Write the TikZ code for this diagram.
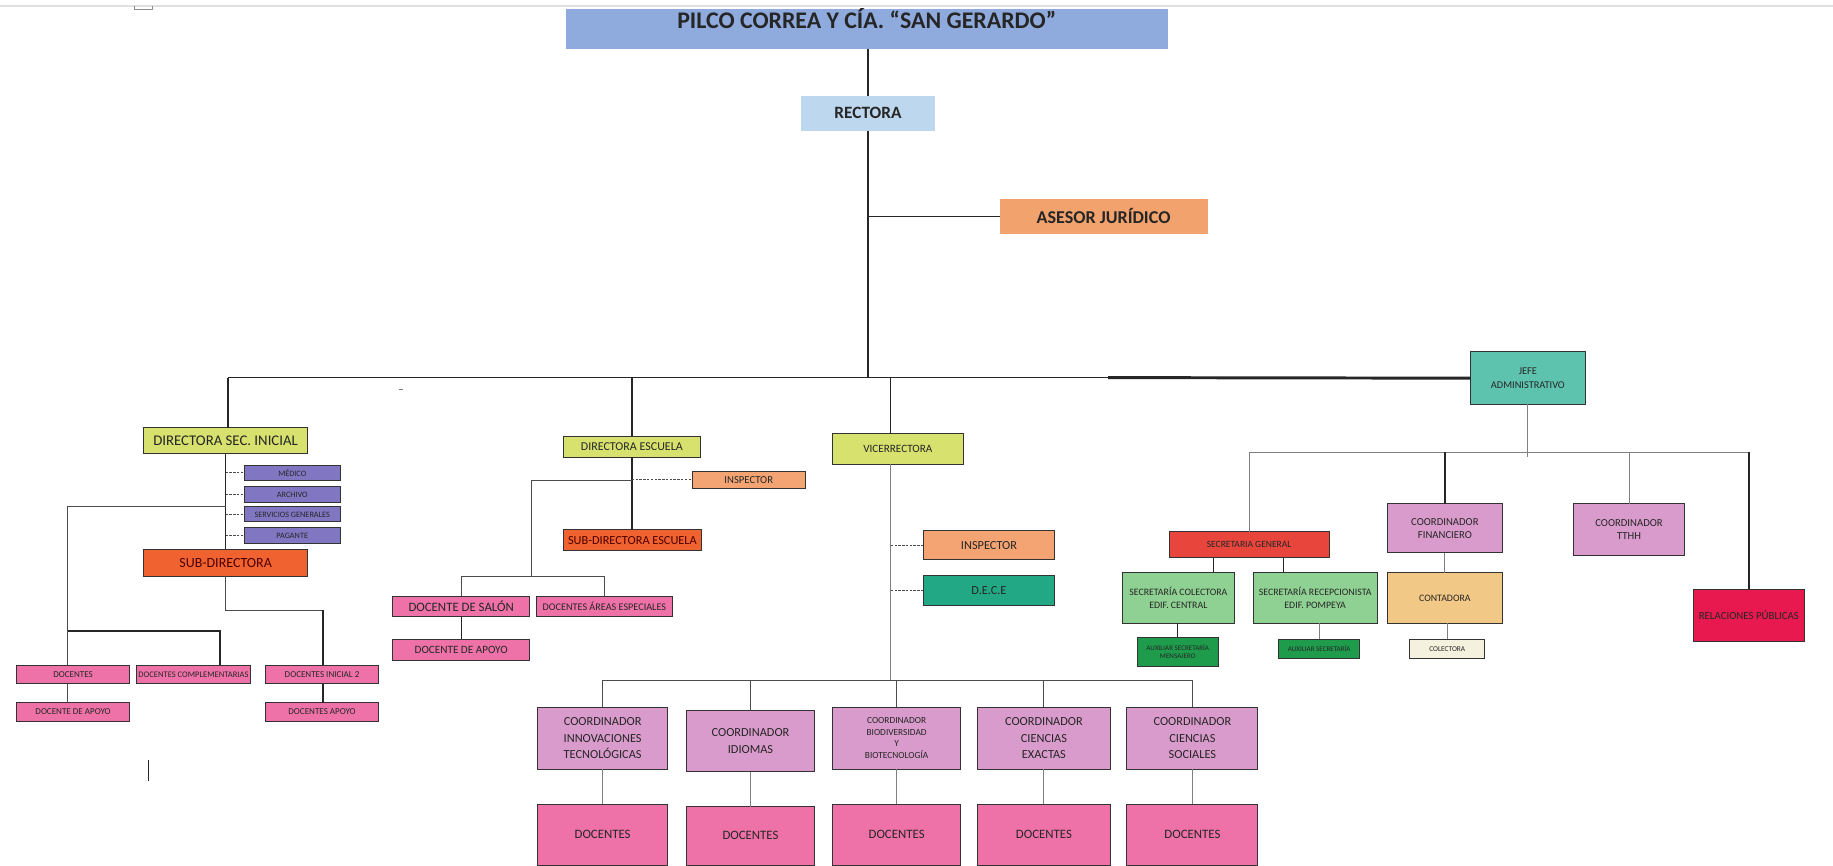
\documentclass[tikz,border=0pt]{standalone}
\usepackage{fontspec}
\setmainfont{Carlito}
\usetikzlibrary{positioning}

\definecolor{titleblue}{HTML}{8FAADC}
\definecolor{rectblue}{HTML}{BDD7EE}
\definecolor{asesor}{HTML}{F2A26C}
\definecolor{director}{HTML}{D7E26E}
\definecolor{staff}{HTML}{8076C2}
\definecolor{subdir}{HTML}{F0622F}
\definecolor{inspec}{HTML}{F4A472}
\definecolor{dece}{HTML}{22A884}
\definecolor{docente}{HTML}{EE72A8}
\definecolor{coord}{HTML}{D99BCB}
\definecolor{jefe}{HTML}{5EC3AE}
\definecolor{secgen}{HTML}{E8453C}
\definecolor{secre}{HTML}{8FD193}
\definecolor{auxil}{HTML}{1F9B4C}
\definecolor{conta}{HTML}{F2C886}
\definecolor{colect}{HTML}{F4F1DE}
\definecolor{relpub}{HTML}{E8194F}

\begin{document}
\begin{tikzpicture}[x=0.25mm, y=-0.25mm,
    box/.style={draw=black!80, line width=0.6pt, inner sep=0pt, outer sep=0pt, align=center, text=black!85},
    plain/.style={box, draw=none},
    wh/.style 2 args={minimum width=#1*0.25mm, minimum height=#2*0.25mm},
    txtbig/.style={font=\fontsize{7.5}{10}\selectfont},
    txtmid/.style={font=\fontsize{6.5}{8}\selectfont},
    txtsmall/.style={font=\fontsize{5.5}{7}\selectfont},
    txtmini/.style={font=\fontsize{4.5}{5.5}\selectfont},
    link/.style={line width=0.8pt, black!85},
    thinlink/.style={line width=0.6pt, gray},
    dotlink/.style={line width=0.7pt, black!70, dash pattern=on 1.5pt off 0.8pt}]

    \useasboundingbox (0,0) rectangle (1568,740);
    \draw[black!12, line width=1.5pt] (0,5) -- (1568,5);
    \draw[black!45, line width=0.5pt] (115,5) -- (115,8) -- (130,8) -- (130,5);

    % top of the chart
    \node[plain, fill=titleblue, wh={515}{34}, font=\fontsize{14.5}{16}\selectfont\bfseries, text height=3.2mm, text depth=3.4mm] (title) at (741.5,25) {PILCO CORREA Y CÍA. “SAN GERARDO”};
    \node[plain, fill=rectblue, wh={115}{30}, font=\fontsize{10.5}{12}\selectfont\bfseries] (rect) at (742.5,97) {RECTORA};
    \node[plain, fill=asesor, wh={178}{30}, font=\fontsize{11}{13}\selectfont\bfseries] (ases) at (944,185) {ASESOR JURÍDICO};
    \node[box, fill=jefe, wh={98}{45}, font=\fontsize{6.3}{8}\selectfont] (jefe) at (1307,323.5) {JEFE\\ADMINISTRATIVO};

    \coordinate (bus) at (741,323);
    \coordinate (bus_l) at (195,323);
    \coordinate (bus_m) at (948,323);
    \coordinate (v_x) at (762,323);

    \draw[link] (rect.north |- title.south) -- (rect.north);
    \draw[link] (rect.south) -- (rect.south |- bus);
    \draw[link] (rect.south |- ases) -- (ases.west);
    \draw[link] (bus_l) -- (bus_m);
    \draw[link, line width=1.8pt] (bus_m) -- (jefe.west);

    % directora sec. inicial
    \node[box, fill=director, wh={140}{22}, font=\fontsize{9}{10}\selectfont] (d_si) at (193,377) {DIRECTORA SEC. INICIAL};
    \node[box, fill=staff, wh={82}{13}, font=\fontsize{5}{6}\selectfont] (med) at (250,404.5) {MÉDICO};
    \node[box, fill=staff, wh={82}{13}, font=\fontsize{5}{6}\selectfont] (arch) at (250,423) {ARCHIVO};
    \node[box, fill=staff, wh={82}{13}, font=\fontsize{5}{6}\selectfont] (serv) at (250,440) {SERVICIOS GENERALES};
    \node[box, fill=staff, wh={82}{13}, font=\fontsize{5}{6}\selectfont] (pag) at (250,458) {PAGANTE};
    \node[box, fill=subdir, wh={140}{23}, font=\fontsize{8.5}{10}\selectfont, text=black!70!red] (sub_d) at (193,481.5) {SUB-DIRECTORA};
    \node[box, fill=docente, wh={97}{16}, txtsmall] (doc_a) at (62.5,577) {DOCENTES};
    \node[box, fill=docente, wh={97}{16}, font=\fontsize{5.2}{6}\selectfont] (doc_c) at (165.5,577) {DOCENTES COMPLEMENTARIAS};
    \node[box, fill=docente, wh={97}{16}, txtsmall] (doc_i) at (275.5,577) {DOCENTES INICIAL 2};
    \node[box, fill=docente, wh={97}{16}, txtsmall] (doc_ap) at (62.5,609) {DOCENTE DE APOYO};
    \node[box, fill=docente, wh={97}{16}, txtsmall] (doc_ia) at (275.5,609) {DOCENTES APOYO};

    \coordinate (l_top) at (58,433);
    \coordinate (l_mid) at (58,540);
    \coordinate (r_mid) at (188,540);
    \coordinate (sd_turn) at (276,522);

    \draw[link] (bus_l) -- (bus_l |- d_si.north);
    \draw[link] (d_si.south) -- (sub_d.north);
    \foreach \s in {med, arch, serv, pag}
        \draw[dotlink] (d_si.south |- \s.west) -- (\s.west);
    \draw[thinlink, black!70] (d_si.south |- l_top) -- (l_top) -- (l_top |- doc_a.north);
    \draw[link, line width=1.2pt] (l_mid) -- (r_mid) -- (r_mid |- doc_c.north);
    \draw[thinlink, black!70] (sub_d.south) -- (sub_d.south |- sd_turn) -- (sd_turn);
    \draw[link, line width=1.2pt] (sd_turn) -- (sd_turn |- doc_i.north);
    \draw[thinlink, black!70] (l_top |- doc_a.south) -- (l_top |- doc_ap.north);
    \draw[link, line width=1.2pt] (sd_turn |- doc_i.south) -- (sd_turn |- doc_ia.north);
    \draw[link] (127,650) -- (127,668);
    \draw[black!50, line width=0.5pt] (341,333) -- (345,333);

    % directora escuela
    \node[box, fill=director, wh={117}{18}, font=\fontsize{7.3}{8}\selectfont] (d_es) at (540.5,382) {DIRECTORA ESCUELA};
    \node[box, fill=inspec, wh={97}{15}, txtmid] (insp_e) at (640.5,410.5) {INSPECTOR};
    \node[box, fill=subdir, wh={118}{18}, font=\fontsize{7.5}{8}\selectfont, text=black!70!red] (sub_e) at (541,462) {SUB-DIRECTORA ESCUELA};
    \node[box, fill=docente, wh={117}{17}, font=\fontsize{7.8}{8}\selectfont] (doc_s) at (394.5,518.5) {DOCENTE DE SALÓN};
    \node[box, fill=docente, wh={116}{17}, font=\fontsize{6.2}{7}\selectfont] (doc_e) at (517,518.5) {DOCENTES ÁREAS ESPECIALES};
    \node[box, fill=docente, wh={117}{18}, font=\fontsize{6.8}{8}\selectfont] (doc_sa) at (394.5,556) {DOCENTE DE APOYO};

    \coordinate (e_top) at (455,411);
    \coordinate (e_bus) at (455,493);

    \draw[link] (d_es.north |- bus) -- (d_es.north);
    \draw[link, line width=1.2pt] (d_es.south) -- (d_es.south |- sub_e.north);
    \draw[dotlink] (d_es.south |- insp_e.west) -- (insp_e.west);
    \draw[thinlink, black!70] (d_es.south |- e_top) -- (e_top) -- (e_bus);
    \draw[thinlink, black!70] (doc_s.north) -- (doc_s.north |- e_bus) -- (doc_e.north |- e_bus) -- (doc_e.north);
    \draw[link] (doc_s.south) -- (doc_sa.north);

    % vicerrectora
    \node[box, fill=director, wh={112}{26}, font=\fontsize{6.8}{8}\selectfont] (vice) at (768,384) {VICERRECTORA};
    \node[box, fill=inspec, wh={112}{25}, font=\fontsize{7.5}{9}\selectfont] (insp_v) at (846,466.5) {INSPECTOR};
    \node[box, fill=dece, wh={112}{26}, font=\fontsize{7.5}{9}\selectfont] (dece) at (846,505) {D.E.C.E};

    \node[box, fill=coord, wh={111}{53}, txtbig] (c_1) at (515.5,631.5) {COORDINADOR\\INNOVACIONES\\TECNOLÓGICAS};
    \node[box, fill=coord, wh={110}{52}, txtbig] (c_2) at (642,634) {COORDINADOR\\IDIOMAS};
    \node[box, fill=coord, wh={110}{53}, font=\fontsize{5.7}{7}\selectfont] (c_3) at (767,631.5) {COORDINADOR\\BIODIVERSIDAD\\Y\\BIOTECNOLOGÍA};
    \node[box, fill=coord, wh={114}{53}, txtbig] (c_4) at (893,631.5) {COORDINADOR\\CIENCIAS\\EXACTAS};
    \node[box, fill=coord, wh={112}{53}, txtbig] (c_5) at (1020,631.5) {COORDINADOR\\CIENCIAS\\SOCIALES};

    \node[box, fill=docente, wh={111}{52}, font=\fontsize{7.8}{9}\selectfont] (doc_1) at (515.5,714) {DOCENTES};
    \node[box, fill=docente, wh={110}{50}, font=\fontsize{7.8}{9}\selectfont] (doc_2) at (642,715) {DOCENTES};
    \node[box, fill=docente, wh={110}{52}, font=\fontsize{7.8}{9}\selectfont] (doc_3) at (767,714) {DOCENTES};
    \node[box, fill=docente, wh={114}{52}, font=\fontsize{7.8}{9}\selectfont] (doc_4) at (893,714) {DOCENTES};
    \node[box, fill=docente, wh={112}{52}, font=\fontsize{7.8}{9}\selectfont] (doc_5) at (1020,714) {DOCENTES};

    \coordinate (c_bus) at (762,582);

    \draw[link] (v_x) -- (v_x |- vice.north);
    \draw[thinlink] (v_x |- vice.south) -- (c_bus);
    \draw[dotlink] (v_x |- insp_v.west) -- (insp_v.west);
    \draw[dotlink] (v_x |- dece.west) -- (dece.west);
    \draw[thinlink, black!70] (c_1.north |- c_bus) -- (c_5.north |- c_bus);
    \foreach \i in {1,...,5} {
        \draw[thinlink, black!70] (c_\i.north |- c_bus) -- (c_\i.north);
        \draw[thinlink] (c_\i.south) -- (doc_\i.north);
    }

    % jefe administrativo
    \node[box, fill=secgen, wh={137}{22}, font=\fontsize{5.8}{7}\selectfont] (sec_g) at (1068.5,466) {SECRETARIA GENERAL};
    \node[box, fill=coord, wh={98}{42}, txtmid] (fin) at (1236,452) {COORDINADOR\\FINANCIERO};
    \node[box, fill=coord, wh={95}{44}, txtmid] (tthh) at (1393.5,453) {COORDINADOR\\TTHH};
    \node[box, fill=relpub, wh={95}{45}, font=\fontsize{6.6}{8}\selectfont] (rel) at (1496,526.5) {RELACIONES PÚBLICAS};
    \node[box, fill=secre, wh={96}{43}, font=\fontsize{6}{8}\selectfont] (sc) at (1008,511.5) {SECRETARÍA COLECTORA\\EDIF. CENTRAL};
    \node[box, fill=secre, wh={106}{43}, font=\fontsize{6}{8}\selectfont] (sr) at (1125,511.5) {SECRETARÍA RECEPCIONISTA\\EDIF. POMPEYA};
    \node[box, fill=conta, wh={98}{43}, font=\fontsize{6}{8}\selectfont] (cont) at (1236,511.5) {CONTADORA};
    \node[box, fill=auxil, wh={69}{25}, font=\fontsize{4.3}{5.2}\selectfont] (aux_1) at (1007.5,557.5) {AUXILIAR SECRETARÍA\\MENSAJERO};
    \node[box, fill=auxil, wh={69}{16}, font=\fontsize{4.3}{5}\selectfont] (aux_2) at (1128.5,555) {AUXILIAR SECRETARÍA};
    \node[box, fill=colect, wh={64}{16}, font=\fontsize{4.5}{5}\selectfont] (col) at (1238,555) {COLECTORA};

    \coordinate (r_bus) at (1307,387);
    \coordinate (g_l) at (1038,466);
    \coordinate (g_r) at (1098,466);

    \draw[thinlink] (jefe.south) -- ([yshift=-1mm]r_bus);
    \draw[thinlink] (sec_g.north |- r_bus) -- (rel.north |- r_bus);
    \draw[thinlink] (sec_g.north |- r_bus) -- (sec_g.north);
    \draw[link] (fin.north |- r_bus) -- (fin.north);
    \draw[thinlink] (tthh.north |- r_bus) -- (tthh.north);
    \draw[link, line width=1.1pt] (rel.north |- r_bus) -- (rel.north);
    \draw[link, line width=1.1pt] (g_l |- sec_g.south) -- (g_l |- sc.north);
    \draw[link, line width=1.1pt] (g_r |- sec_g.south) -- (g_r |- sr.north);
    \draw[link] (aux_1.north |- sc.south) -- (aux_1.north);
    \draw[thinlink] (aux_2.north |- sr.south) -- (aux_2.north);
    \draw[thinlink] (fin.south) -- (cont.north);
    \draw[thinlink] (col.north |- cont.south) -- (col.north);

\end{tikzpicture}
\end{document}
